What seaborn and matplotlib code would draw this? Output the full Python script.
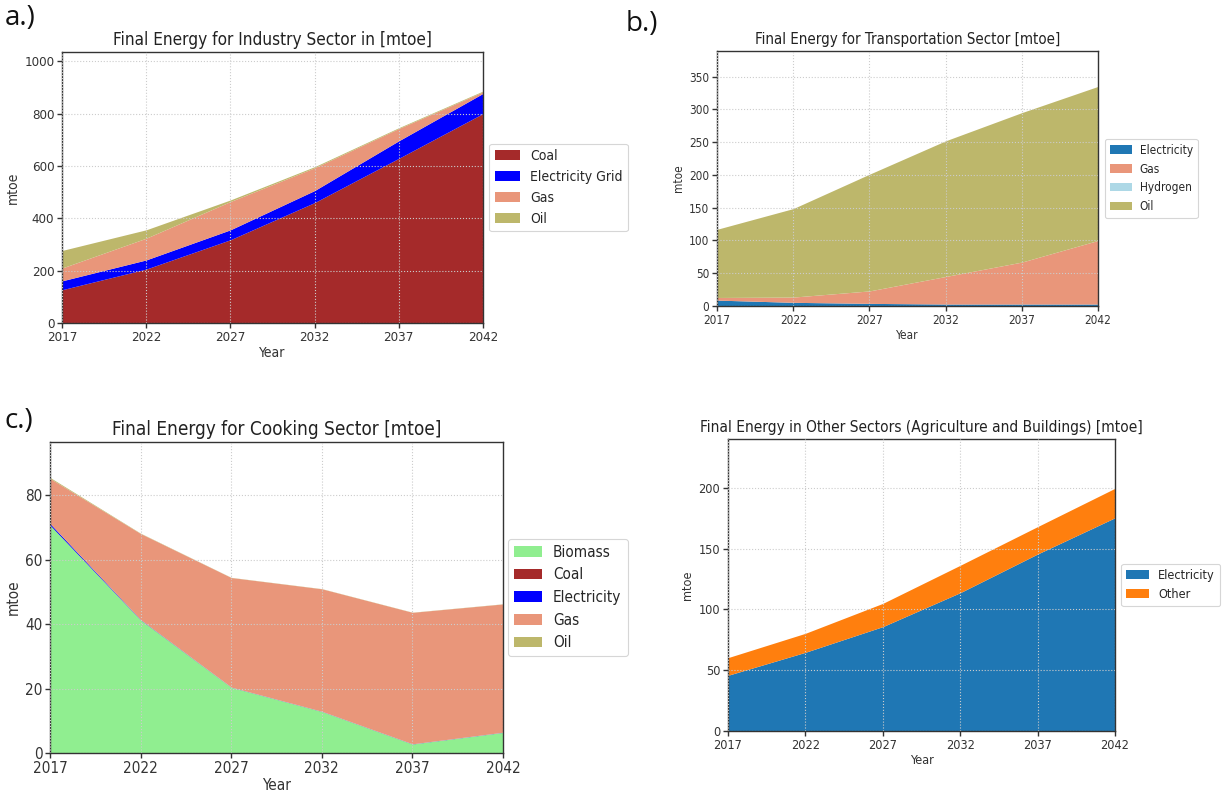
import matplotlib
matplotlib.use("Agg")
import matplotlib.pyplot as plt
import seaborn as sns
import numpy as np

sns.set_theme(style="ticks")
plt.rcParams['font.family'] = ['DejaVu Sans']
plt.rcParams['font.stretch'] = 'condensed'

years = [2017, 2022, 2027, 2032, 2037, 2042]
year_ticks = years

# a.) Industry
ind_labels = ["Coal", "Electricity Grid", "Gas", "Oil"]
ind_coal = [127, 206, 318, 460, 629, 800]
ind_elec = [34, 35, 38, 46, 67, 77]
ind_gas = [49, 83, 108, 87, 47, 6]
ind_oil = [67, 32, 6, 4, 3, 3]
ind_colors = ["#a52a2a", "#0000ff", "#e9967a", "#bdb76b"]

# b.) Transportation
tr_labels = ["Electricity", "Gas", "Hydrogen", "Oil"]
tr_elec = [9, 5.6, 4, 3, 3, 3]
tr_gas = [4, 8, 19, 42, 64, 97]
tr_h2 = [0, 0, 0, 0, 0, 0]
tr_oil = [104, 135, 178, 207, 228, 235]
tr_colors = ["#1f77b4", "#e9967a", "#add8e6", "#bdb76b"]

# c.) Cooking
ck_labels = ["Biomass", "Coal", "Electricity", "Gas", "Oil"]
ck_bio = [70.7, 41.3, 20.4, 12.9, 2.8, 6.4]
ck_coal = [0, 0, 0, 0, 0, 0]
ck_elec = [0.5, 0.1, 0.05, 0.05, 0.05, 0.05]
ck_gas = [14.0, 26.7, 34.0, 38.0, 40.8, 39.8]
ck_oil = [0.3, 0.1, 0.05, 0.05, 0.05, 0.05]
ck_colors = ["#90ee90", "#a52a2a", "#0000ff", "#e9967a", "#bdb76b"]

# d.) Other sectors
ot_labels = ["Electricity", "Other"]
ot_elec = [45.8, 64.7, 85.8, 113.7, 145.5, 175.3]
ot_other = [14.5, 15.6, 19.1, 22.5, 22.5, 24.2]
ot_colors = ["#1f77b4", "#ff7f0e"]

W, H = 1225, 799
fig = plt.figure(figsize=(W / 100, H / 100), dpi=100)

def panel(px, series, labels, colors, title, ylim, yticks, fs_tick, fs_title, fs_leg, fs_lab, gap=6):
    l, r, t, b = px
    ax = fig.add_axes([l / W, 1 - b / H, (r - l) / W, (b - t) / H])
    ax.stackplot(years, *series, labels=labels, colors=colors, linewidth=0)
    ax.set_xlim(years[0], years[-1])
    ax.set_ylim(*ylim)
    ax.set_xticks(year_ticks)
    ax.set_yticks(yticks)
    ax.tick_params(labelsize=fs_tick, direction="out", length=3.5, width=1, colors="#333333", pad=2)
    for s in ax.spines.values():
        s.set_visible(True)
        s.set_color("#333333")
        s.set_linewidth(1.0)
    ax.grid(True, linestyle=":", color="#cccccc", linewidth=0.8)
    ax.set_axisbelow(False)
    ax.set_title(title, fontsize=fs_title, color="#222222", pad=5)
    ax.set_xlabel("Year", fontsize=fs_lab, color="#333333", labelpad=2)
    ax.set_ylabel("mtoe", fontsize=fs_lab, color="#333333", labelpad=3)
    leg = ax.legend(loc="center left", bbox_to_anchor=(1 + gap / (r - l), 0.5), borderaxespad=0,
                    fontsize=fs_leg, frameon=True, fancybox=True, edgecolor="#cccccc",
                    handlelength=1.85, handletextpad=0.7)
    leg.get_frame().set_linewidth(0.8)
    return ax

# a
panel((62, 483, 52, 323),
      [ind_coal, ind_elec, ind_gas, ind_oil], ind_labels, ind_colors,
      "Final Energy for Industry Sector in [mtoe]", (0, 1035), [0, 200, 400, 600, 800, 1000],
      9.5, 12.3, 10, 10)
# b
panel((717, 1098, 51, 306),
      [tr_elec, tr_gas, tr_h2, tr_oil], tr_labels, tr_colors,
      "Final Energy for Transportation Sector [mtoe]", (0, 389), [0, 50, 100, 150, 200, 250, 300, 350],
      8.5, 10.8, 8.5, 8.5, gap=7)
# c
panel((50, 503, 442, 753),
      [ck_bio, ck_coal, ck_elec, ck_gas, ck_oil], ck_labels, ck_colors,
      "Final Energy for Cooking Sector [mtoe]", (0, 96.5), [0, 20, 40, 60, 80],
      11, 13.6, 11, 11, gap=5)
# d
panel((728, 1115, 439, 731),
      [ot_elec, ot_other], ot_labels, ot_colors,
      "Final Energy in Other Sectors (Agriculture and Buildings) [mtoe]", (0, 240), [0, 50, 100, 150, 200],
      9.1, 11.1, 9.1, 9.1)

lab_font = dict(fontsize=20, family=["Open Sans", "DejaVu Sans"], fontstretch="normal",
                color="#111111", va="top", ha="left")
fig.text(0.004, 0.995, "a.)", **lab_font)
fig.text(0.511, 0.988, "b.)", **lab_font)
fig.text(0.004, 0.490, "c.)", **lab_font)

fig.savefig("out.png", dpi=100)
